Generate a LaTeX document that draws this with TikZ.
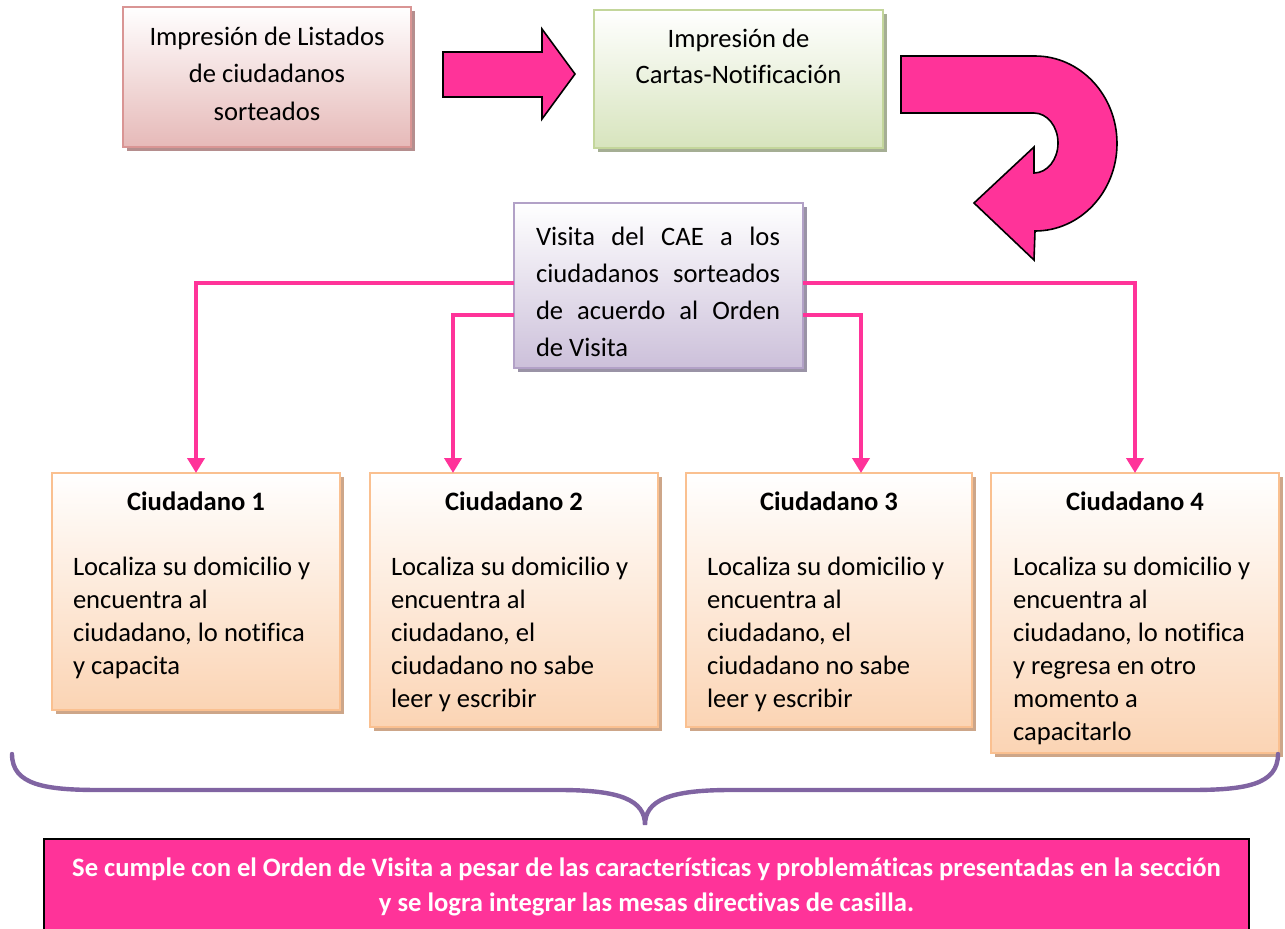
\documentclass[tikz,border=0pt]{standalone}
\usepackage{fontspec}
\setmainfont[Ligatures={NoCommon}]{Carlito}
\usetikzlibrary{shadows,arrows.meta}

\definecolor{flecha}{HTML}{FF3399}
\definecolor{lista}{HTML}{E6B9B8}
\definecolor{listaborde}{HTML}{D99594}
\definecolor{listasombra}{HTML}{B58E8E}
\definecolor{carta}{HTML}{D7E4BD}
\definecolor{cartaborde}{HTML}{C3D69B}
\definecolor{cartasombra}{HTML}{A5AE94}
\definecolor{visita}{HTML}{CCC0DA}
\definecolor{visitaborde}{HTML}{B2A1C7}
\definecolor{visitasombra}{HTML}{9A93A6}
\definecolor{ciud}{HTML}{FBD4B4}
\definecolor{ciudborde}{HTML}{FAC090}
\definecolor{ciudsombra}{HTML}{CDA689}
\definecolor{llave}{HTML}{8064A2}

\tikzset{
  caja/.style={anchor=north west, inner sep=0pt, outer sep=0pt, line width=1pt, top color=white},
  cajalista/.style={caja, draw=listaborde, bottom color=lista,
    drop shadow={shadow xshift=2pt, shadow yshift=-2pt, opacity=1, fill=listasombra}},
  cajacarta/.style={caja, draw=cartaborde, bottom color=carta,
    drop shadow={shadow xshift=2pt, shadow yshift=-2pt, opacity=1, fill=cartasombra}},
  cajavisita/.style={caja, draw=visitaborde, bottom color=visita,
    drop shadow={shadow xshift=2pt, shadow yshift=-2pt, opacity=1, fill=visitasombra}},
  cajaciud/.style={caja, draw=ciudborde, bottom color=ciud,
    drop shadow={shadow xshift=2pt, shadow yshift=-2pt, opacity=1, fill=ciudsombra}},
  conector/.style={draw=flecha, line width=2pt, -{Triangle[width=8.5pt,length=7.5pt]}},
  bloque/.style={fill=flecha, draw=black, line width=0.8pt, line join=miter}
}

\begin{document}
\begin{tikzpicture}[x=0.5pt, y=-0.5pt, font=\fontsize{13.3pt}{16.5pt}\selectfont]
\useasboundingbox (0,0) rectangle (1285,928);

% cajas de arriba
\node[cajalista] (listados) at (123,7)
  {\parbox[c][70pt][t]{144pt}{\centering\baselineskip=18.75pt
   \rule{0pt}{19pt}Impresión de Listados\\de ciudadanos\\sorteados\par}};
\node[cajacarta] (cartas) at (594,10)
  {\parbox[c][69pt][t]{144.5pt}{\centering\baselineskip=18pt
   \rule{0pt}{18.5pt}Impresión de\\Cartas-Notificación\par}};

% flecha recta
\filldraw[bloque] (443,52) -- (542,52) -- (542,29) -- (575,74) -- (542,119)
  -- (542,97) -- (443,97) -- cycle;

% flecha en U
\filldraw[bloque] (901,56) -- (1035,56)
  arc[start angle=-90, end angle=90, x radius=82, y radius=87.5]
  -- (1034,260) -- (974,203) -- (1034,147) -- (1034,173)
  arc[start angle=90, end angle=-90, x radius=24, y radius=30]
  -- (901,113) -- cycle;

% visita del CAE
\node[cajavisita] (visita) at (514,203)
  {\parbox[c][82.5pt][t]{144.5pt}{\baselineskip=18.5pt
   \rule{0pt}{21pt}\hspace*{11pt}\parbox[t]{122pt}{\baselineskip=18.5pt
   Visita del CAE a los\linebreak ciudadanos sorteados\linebreak
   de acuerdo al Orden\linebreak de Visita\par}}};

% ciudadanos
\node[cajaciud] (c1) at (52,473)
  {\parbox[c][118.5pt][t]{144pt}{\baselineskip=16.5pt
   \rule{0pt}{18.5pt}\hfill\textbf{Ciudadano 1}\hfill\null\par\vspace{16pt}
   \hspace*{10.5pt}\parbox[t]{130pt}{\raggedright\baselineskip=16.5pt
   Localiza su domicilio y\\encuentra al\\ciudadano, lo notifica\\y capacita\par}}};
\node[cajaciud] (c2) at (370,473)
  {\parbox[c][127pt][t]{144pt}{\baselineskip=16.5pt
   \rule{0pt}{18.5pt}\hfill\textbf{Ciudadano 2}\hfill\null\par\vspace{16pt}
   \hspace*{10.5pt}\parbox[t]{130pt}{\raggedright\baselineskip=16.5pt
   Localiza su domicilio y\\encuentra al\\ciudadano, el\\ciudadano no sabe\\leer y escribir\par}}};
\node[cajaciud] (c3) at (686,473)
  {\parbox[c][127pt][t]{143pt}{\baselineskip=16.5pt
   \rule{0pt}{18.5pt}\hfill\textbf{Ciudadano 3}\hfill\null\par\vspace{16pt}
   \hspace*{10.5pt}\parbox[t]{130pt}{\raggedright\baselineskip=16.5pt
   Localiza su domicilio y\\encuentra al\\ciudadano, el\\ciudadano no sabe\\leer y escribir\par}}};
\node[cajaciud] (c4) at (991,473)
  {\parbox[c][140pt][t]{144pt}{\baselineskip=16.5pt
   \rule{0pt}{18.5pt}\hfill\textbf{Ciudadano 4}\hfill\null\par\vspace{16pt}
   \hspace*{11pt}\parbox[t]{130pt}{\raggedright\baselineskip=16.5pt
   Localiza su domicilio y\\encuentra al\\ciudadano, lo notifica\\y regresa en otro\\momento a\\capacitarlo\par}}};

% conectores
\draw[conector] (visita.west |- 0,283) -| (c1.north);
\draw[conector] (visita.west |- 0,315) -| ([xshift=41.5pt]c2.north west);
\draw[conector] (visita.east |- 0,315) -| ([xshift=87.5pt]c3.north west);
\draw[conector] (visita.east |- 0,283) -| (c4.north);

% llave
\draw[llave, line width=2.2pt, line cap=round] (12,754)
  .. controls (12,785) and (45,790) .. (100,790) -- (560,790)
  .. controls (620,790) and (645,800) .. (645,825)
  .. controls (645,800) and (670,790) .. (730,790) -- (1190,790)
  .. controls (1245,790) and (1278,785) .. (1278,754);

% conclusion
\node[anchor=north west, fill=flecha, draw=black, line width=1pt, inner sep=0pt,
  text=white, font=\fontsize{13.3pt}{17.5pt}\selectfont\bfseries] (final) at (43,838)
  {\parbox[c][52pt][t]{602.5pt}{\centering\baselineskip=17.5pt
   \rule{0pt}{18.5pt}Se cumple con el Orden de Visita a pesar de las características y problemáticas presentadas en la sección\\
   y se logra integrar las mesas directivas de casilla.\par}};
\end{tikzpicture}
\end{document}
